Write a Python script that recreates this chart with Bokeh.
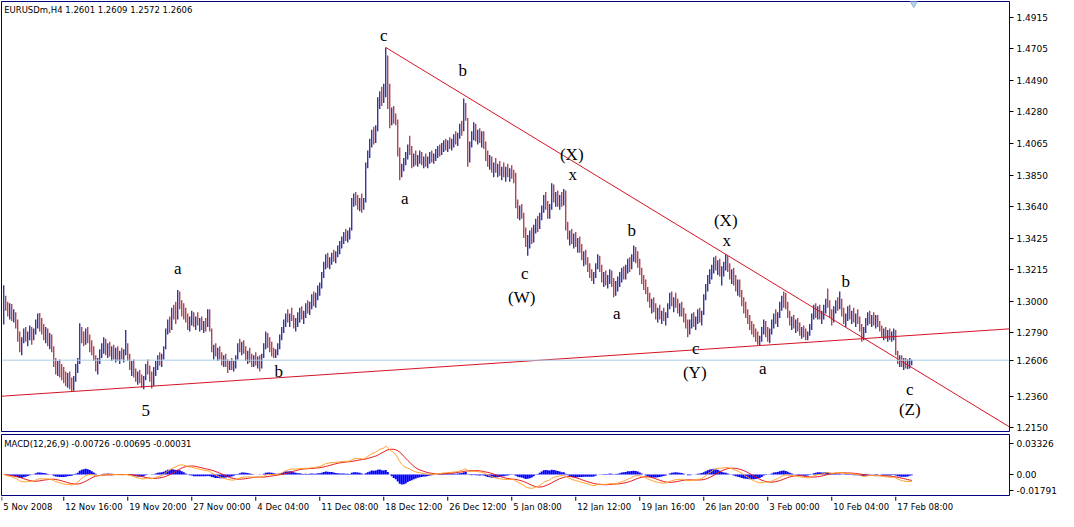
import numpy as np
from bokeh.plotting import figure
from bokeh.layouts import column
from bokeh.models import Range1d, LinearAxis, FixedTicker, Span, Label, PrintfTickFormatter
from bokeh.core.properties import value
from bokeh.embed import file_html
from bokeh.resources import INLINE

# ---------------- data ----------------
chart_title = "EURUSDm,H4  1.2601 1.2609 1.2572 1.2606"
macd_title = "MACD(12,26,9) -0.00726 -0.00695 -0.00031"
first_open = 1.2850

bar_high = [
 1.3111,1.3040,1.3000,1.2990,1.2985,1.2950,1.2930,1.2880,1.2800,1.2760,
 1.2820,1.2830,1.2800,1.2840,1.2830,1.2820,1.2880,1.2920,1.2925,1.2890,
 1.2850,1.2830,1.2820,1.2790,1.2780,1.2700,1.2620,1.2600,1.2610,1.2580,
 1.2560,1.2530,1.2520,1.2530,1.2490,1.2500,1.2580,1.2620,1.2855,1.2830,
 1.2800,1.2820,1.2830,1.2780,1.2740,1.2700,1.2640,1.2620,1.2680,1.2720,
 1.2760,1.2750,1.2720,1.2730,1.2700,1.2710,1.2690,1.2700,1.2670,1.2690,
 1.2680,1.2810,1.2720,1.2650,1.2600,1.2610,1.2550,1.2530,1.2540,1.2510,
 1.2500,1.2580,1.2610,1.2570,1.2530,1.2560,1.2600,1.2640,1.2660,1.2650,
 1.2700,1.2820,1.2880,1.2900,1.2960,1.2980,1.3000,1.3080,1.3070,1.3010,
 1.2990,1.2960,1.2920,1.2900,1.2940,1.2930,1.2900,1.2930,1.2890,1.2900,
 1.2870,1.2890,1.2950,1.2950,1.2820,1.2710,1.2720,1.2690,1.2700,1.2660,
 1.2640,1.2650,1.2610,1.2600,1.2620,1.2600,1.2640,1.2720,1.2750,1.2730,
 1.2740,1.2700,1.2670,1.2690,1.2650,1.2640,1.2660,1.2630,1.2640,1.2650,
 1.2720,1.2800,1.2790,1.2760,1.2730,1.2690,1.2680,1.2720,1.2780,1.2830,
 1.2880,1.2920,1.2950,1.2920,1.2960,1.2910,1.2890,1.2930,1.2960,1.2970,
 1.2940,1.2990,1.3010,1.3000,1.3050,1.3070,1.3060,1.3110,1.3130,1.3200,
 1.3270,1.3320,1.3330,1.3300,1.3330,1.3350,1.3340,1.3380,1.3410,1.3440,
 1.3470,1.3490,1.3480,1.3500,1.3700,1.3730,1.3740,1.3720,1.3700,1.3730,
 1.3700,1.3940,1.4020,1.4100,1.4160,1.4180,1.4190,1.4380,1.4420,1.4450,
 1.4470,1.4715,1.4660,1.4470,1.4310,1.4320,1.4270,1.4230,1.4040,1.3930,
 1.3970,1.4010,1.4060,1.4120,1.4050,1.4000,1.4020,1.3990,1.4020,1.4010,
 1.3980,1.4000,1.3980,1.4010,1.4020,1.4000,1.4030,1.4050,1.4060,1.4070,
 1.4090,1.4100,1.4090,1.4110,1.4100,1.4130,1.4150,1.4140,1.4200,1.4220,
 1.4370,1.4340,1.4240,1.4080,1.4150,1.4210,1.4200,1.4160,1.4170,1.4150,
 1.4150,1.4080,1.4020,1.3990,1.3980,1.3940,1.3970,1.3930,1.3950,1.3910,
 1.3940,1.3910,1.3930,1.3900,1.3920,1.3890,1.3870,1.3690,1.3650,1.3660,
 1.3600,1.3500,1.3450,1.3480,1.3500,1.3520,1.3560,1.3580,1.3600,1.3650,
 1.3720,1.3740,1.3680,1.3660,1.3800,1.3790,1.3740,1.3750,1.3720,1.3740,
 1.3760,1.3750,1.3540,1.3480,1.3490,1.3460,1.3470,1.3430,1.3440,1.3390,
 1.3340,1.3350,1.3300,1.3260,1.3220,1.3200,1.3260,1.3320,1.3310,1.3250,
 1.3200,1.3210,1.3180,1.3220,1.3210,1.3160,1.3140,1.3170,1.3200,1.3230,
 1.3240,1.3250,1.3290,1.3300,1.3320,1.3380,1.3370,1.3340,1.3290,1.3230,
 1.3180,1.3150,1.3100,1.3060,1.3020,1.3030,1.2990,1.2960,1.2980,1.2940,
 1.2960,1.2930,1.2990,1.3060,1.3070,1.3030,1.3060,1.3020,1.2990,1.3000,
 1.2960,1.2920,1.2880,1.2880,1.2920,1.2930,1.2900,1.2950,1.2960,1.2940,
 1.3050,1.3120,1.3180,1.3220,1.3250,1.3300,1.3310,1.3280,1.3290,1.3240,
 1.3270,1.3320,1.3310,1.3260,1.3220,1.3230,1.3180,1.3150,1.3150,1.3080,
 1.3030,1.3000,1.2950,1.2910,1.2870,1.2850,1.2820,1.2800,1.2770,1.2830,
 1.2880,1.2870,1.2830,1.2820,1.2880,1.2920,1.2950,1.2930,1.3000,1.3040,
 1.3070,1.3060,1.3000,1.2940,1.2900,1.2910,1.2880,1.2890,1.2860,1.2830,
 1.2840,1.2820,1.2800,1.2850,1.2920,1.2980,1.2990,1.2970,1.2980,1.2940,
 1.2980,1.3020,1.3090,1.3010,1.2950,1.2970,1.3010,1.3030,1.3070,1.3020,
 1.2960,1.2920,1.2970,1.2980,1.2940,1.2960,1.2920,1.2950,1.2900,1.2850,
 1.2830,1.2890,1.2930,1.2940,1.2910,1.2930,1.2910,1.2910,1.2870,1.2840,
 1.2820,1.2830,1.2810,1.2820,1.2800,1.2820,1.2810,1.2670,1.2640,1.2640,
 1.2620,1.2620,1.2610,1.2620,1.2609]

bar_low = [
 1.2846,1.2940,1.2900,1.2880,1.2870,1.2860,1.2820,1.2730,1.2660,1.2640,
 1.2720,1.2730,1.2700,1.2740,1.2710,1.2740,1.2780,1.2820,1.2800,1.2780,
 1.2740,1.2720,1.2700,1.2680,1.2660,1.2560,1.2510,1.2500,1.2490,1.2470,
 1.2450,1.2430,1.2420,1.2410,1.2395,1.2400,1.2460,1.2520,1.2580,1.2720,
 1.2700,1.2710,1.2720,1.2660,1.2640,1.2600,1.2530,1.2510,1.2580,1.2620,
 1.2650,1.2640,1.2620,1.2630,1.2600,1.2610,1.2590,1.2600,1.2580,1.2610,
 1.2590,1.2640,1.2600,1.2540,1.2500,1.2490,1.2460,1.2440,1.2450,1.2420,
 1.2410,1.2470,1.2510,1.2460,1.2415,1.2430,1.2500,1.2540,1.2570,1.2560,
 1.2610,1.2680,1.2780,1.2790,1.2810,1.2880,1.2850,1.2880,1.2950,1.2900,
 1.2880,1.2860,1.2810,1.2800,1.2840,1.2830,1.2810,1.2840,1.2800,1.2810,
 1.2790,1.2800,1.2830,1.2800,1.2660,1.2610,1.2630,1.2600,1.2610,1.2570,
 1.2560,1.2560,1.2520,1.2540,1.2540,1.2530,1.2550,1.2610,1.2660,1.2640,
 1.2650,1.2600,1.2580,1.2590,1.2560,1.2560,1.2570,1.2550,1.2530,1.2550,
 1.2620,1.2680,1.2690,1.2660,1.2630,1.2620,1.2620,1.2640,1.2680,1.2740,
 1.2790,1.2830,1.2860,1.2830,1.2870,1.2820,1.2800,1.2830,1.2860,1.2880,
 1.2850,1.2890,1.2920,1.2910,1.2950,1.2970,1.2960,1.3010,1.3040,1.3090,
 1.3160,1.3220,1.3230,1.3220,1.3250,1.3270,1.3260,1.3300,1.3320,1.3360,
 1.3390,1.3410,1.3400,1.3420,1.3480,1.3640,1.3650,1.3620,1.3610,1.3600,
 1.3620,1.3670,1.3900,1.3970,1.4040,1.4060,1.4070,1.4150,1.4300,1.4320,
 1.4340,1.4380,1.4300,1.4170,1.4190,1.4200,1.4190,1.3980,1.3820,1.3840,
 1.3880,1.3920,1.3960,1.3990,1.3900,1.3910,1.3920,1.3910,1.3930,1.3920,
 1.3900,1.3910,1.3900,1.3930,1.3940,1.3930,1.3950,1.3970,1.3980,1.3990,
 1.4010,1.4020,1.4010,1.4030,1.4020,1.4040,1.4060,1.4050,1.4100,1.4120,
 1.4150,1.4220,1.3910,1.3940,1.4040,1.4090,1.4080,1.4060,1.4070,1.4040,
 1.4030,1.3950,1.3910,1.3890,1.3870,1.3840,1.3870,1.3840,1.3850,1.3820,
 1.3840,1.3810,1.3840,1.3810,1.3830,1.3800,1.3630,1.3560,1.3550,1.3560,
 1.3430,1.3370,1.3310,1.3360,1.3390,1.3400,1.3460,1.3470,1.3490,1.3550,
 1.3600,1.3620,1.3560,1.3560,1.3620,1.3670,1.3640,1.3640,1.3620,1.3640,
 1.3650,1.3480,1.3420,1.3380,1.3390,1.3360,1.3370,1.3330,1.3330,1.3280,
 1.3240,1.3250,1.3200,1.3160,1.3140,1.3120,1.3160,1.3220,1.3200,1.3130,
 1.3100,1.3110,1.3090,1.3120,1.3100,1.3030,1.3040,1.3070,1.3100,1.3130,
 1.3150,1.3150,1.3190,1.3200,1.3220,1.3270,1.3260,1.3230,1.3180,1.3120,
 1.3080,1.3050,1.3000,1.2960,1.2920,1.2930,1.2880,1.2860,1.2880,1.2850,
 1.2870,1.2840,1.2890,1.2950,1.2970,1.2930,1.2960,1.2920,1.2900,1.2900,
 1.2860,1.2820,1.2760,1.2780,1.2820,1.2830,1.2810,1.2850,1.2860,1.2840,
 1.2910,1.3010,1.3070,1.3120,1.3150,1.3190,1.3210,1.3180,1.3170,1.3110,
 1.3170,1.3210,1.3200,1.3150,1.3120,1.3110,1.3070,1.3040,1.3030,1.2970,
 1.2920,1.2890,1.2850,1.2810,1.2780,1.2760,1.2730,1.2710,1.2705,1.2730,
 1.2780,1.2760,1.2730,1.2720,1.2780,1.2820,1.2850,1.2830,1.2890,1.2940,
 1.2960,1.2950,1.2890,1.2840,1.2810,1.2820,1.2790,1.2800,1.2770,1.2750,
 1.2760,1.2740,1.2740,1.2770,1.2810,1.2880,1.2890,1.2880,1.2880,1.2850,
 1.2880,1.2920,1.2960,1.2890,1.2840,1.2860,1.2920,1.2940,1.2950,1.2900,
 1.2850,1.2830,1.2870,1.2880,1.2850,1.2860,1.2830,1.2850,1.2800,1.2730,
 1.2740,1.2790,1.2840,1.2850,1.2830,1.2840,1.2820,1.2830,1.2800,1.2760,
 1.2740,1.2750,1.2730,1.2740,1.2730,1.2740,1.2640,1.2580,1.2560,1.2560,
 1.2540,1.2550,1.2545,1.2550,1.2572]

bar_close = [
 1.3060,1.2960,1.2930,1.2970,1.2890,1.2900,1.2840,1.2760,1.2700,1.2740,
 1.2790,1.2760,1.2780,1.2800,1.2760,1.2800,1.2860,1.2900,1.2830,1.2800,
 1.2770,1.2790,1.2720,1.2750,1.2680,1.2580,1.2540,1.2570,1.2520,1.2500,
 1.2480,1.2460,1.2500,1.2430,1.2420,1.2480,1.2560,1.2600,1.2780,1.2760,
 1.2730,1.2790,1.2740,1.2690,1.2670,1.2620,1.2560,1.2600,1.2660,1.2700,
 1.2740,1.2670,1.2690,1.2650,1.2680,1.2640,1.2660,1.2630,1.2650,1.2640,
 1.2660,1.2700,1.2620,1.2560,1.2580,1.2510,1.2480,1.2510,1.2470,1.2450,
 1.2490,1.2560,1.2530,1.2490,1.2440,1.2540,1.2580,1.2620,1.2590,1.2630,
 1.2690,1.2800,1.2860,1.2820,1.2940,1.2900,1.2880,1.3050,1.2980,1.2940,
 1.2920,1.2880,1.2840,1.2870,1.2910,1.2860,1.2880,1.2860,1.2870,1.2840,
 1.2860,1.2830,1.2890,1.2810,1.2690,1.2690,1.2650,1.2670,1.2630,1.2600,
 1.2620,1.2580,1.2560,1.2580,1.2560,1.2590,1.2630,1.2700,1.2690,1.2710,
 1.2670,1.2630,1.2650,1.2620,1.2600,1.2620,1.2600,1.2610,1.2560,1.2630,
 1.2700,1.2780,1.2720,1.2690,1.2660,1.2640,1.2660,1.2700,1.2760,1.2810,
 1.2860,1.2900,1.2880,1.2910,1.2890,1.2850,1.2870,1.2910,1.2940,1.2900,
 1.2920,1.2970,1.2950,1.2980,1.3030,1.3000,1.3040,1.3090,1.3110,1.3180,
 1.3250,1.3290,1.3260,1.3280,1.3310,1.3300,1.3330,1.3360,1.3390,1.3420,
 1.3450,1.3440,1.3470,1.3490,1.3690,1.3700,1.3680,1.3660,1.3690,1.3650,
 1.3680,1.3920,1.3990,1.4070,1.4130,1.4090,1.4170,1.4350,1.4390,1.4360,
 1.4440,1.4640,1.4330,1.4200,1.4280,1.4230,1.4210,1.4010,1.3860,1.3910,
 1.3950,1.3990,1.4040,1.4020,1.3930,1.3980,1.3950,1.3970,1.4000,1.3950,
 1.3960,1.3940,1.3970,1.3990,1.3970,1.3990,1.4010,1.4030,1.4020,1.4050,
 1.4070,1.4040,1.4070,1.4050,1.4080,1.4110,1.4080,1.4120,1.4180,1.4160,
 1.4310,1.4250,1.3950,1.4060,1.4120,1.4180,1.4110,1.4140,1.4090,1.4120,
 1.4050,1.3980,1.3940,1.3960,1.3900,1.3920,1.3890,1.3910,1.3870,1.3890,
 1.3860,1.3880,1.3860,1.3880,1.3850,1.3830,1.3660,1.3600,1.3620,1.3580,
 1.3460,1.3400,1.3420,1.3450,1.3420,1.3500,1.3540,1.3500,1.3580,1.3630,
 1.3700,1.3650,1.3600,1.3640,1.3770,1.3700,1.3720,1.3670,1.3700,1.3660,
 1.3740,1.3510,1.3450,1.3460,1.3420,1.3440,1.3400,1.3410,1.3360,1.3300,
 1.3320,1.3280,1.3230,1.3190,1.3170,1.3180,1.3240,1.3300,1.3220,1.3160,
 1.3170,1.3140,1.3160,1.3190,1.3120,1.3060,1.3120,1.3150,1.3170,1.3210,
 1.3180,1.3230,1.3270,1.3230,1.3300,1.3350,1.3290,1.3260,1.3200,1.3150,
 1.3110,1.3070,1.3030,1.2990,1.2990,1.2950,1.2910,1.2940,1.2900,1.2920,
 1.2890,1.2910,1.2970,1.3040,1.3000,1.3010,1.2990,1.2950,1.2970,1.2930,
 1.2880,1.2850,1.2800,1.2860,1.2900,1.2870,1.2880,1.2930,1.2890,1.2920,
 1.3030,1.3100,1.3160,1.3200,1.3220,1.3280,1.3240,1.3260,1.3190,1.3210,
 1.3250,1.3300,1.3230,1.3180,1.3200,1.3140,1.3100,1.3120,1.3060,1.3000,
 1.2960,1.2920,1.2880,1.2840,1.2810,1.2790,1.2760,1.2740,1.2750,1.2810,
 1.2860,1.2790,1.2760,1.2800,1.2860,1.2900,1.2880,1.2910,1.2980,1.3020,
 1.2990,1.2970,1.2910,1.2870,1.2880,1.2850,1.2860,1.2830,1.2800,1.2810,
 1.2790,1.2760,1.2790,1.2830,1.2900,1.2960,1.2920,1.2950,1.2910,1.2920,
 1.2960,1.3000,1.2990,1.2910,1.2870,1.2950,1.2990,1.2960,1.3000,1.2930,
 1.2880,1.2900,1.2940,1.2910,1.2920,1.2890,1.2910,1.2870,1.2830,1.2790,
 1.2810,1.2870,1.2910,1.2880,1.2900,1.2870,1.2890,1.2850,1.2820,1.2790,
 1.2800,1.2780,1.2790,1.2770,1.2790,1.2800,1.2660,1.2610,1.2620,1.2580,
 1.2600,1.2570,1.2590,1.2601,1.2606]

price_ticks = [1.4915, 1.4705, 1.4490, 1.4280, 1.4065, 1.3850, 1.3640,
               1.3425, 1.3215, 1.3000, 1.2790, 1.2575, 1.2360, 1.2150]
current_price = 1.2606

time_tick_bars = [-1, 30, 62, 94, 126, 158, 190, 222, 254, 286, 318, 350, 382, 414, 446]
time_tick_labels = ["5 Nov 2008", "12 Nov 16:00", "19 Nov 20:00", "27 Nov 00:00",
                    "4 Dec 04:00", "11 Dec 08:00", "18 Dec 12:00", "26 Dec 12:00",
                    "5 Jan 08:00", "12 Jan 12:00", "19 Jan 16:00", "26 Jan 20:00",
                    "3 Feb 00:00", "10 Feb 04:00", "17 Feb 08:00"]

support_bars = [-1, 512.5]
support_prices = [1.2363, 1.2826]
resist_bars = [191, 507]
resist_prices = [1.4715, 1.2122]

wave_text = ["c", "b", "a", "(X)", "x", "c", "(W)", "b", "a", "(X)", "x",
             "c", "(Y)", "a", "b", "c", "(Z)", "a", "b", "5"]
wave_bar = [190, 229.5, 200.5, 284, 284.5, 260.5, 259, 314, 306.5, 361, 361.5,
            346, 345.5, 379.5, 421, 453, 453, 87, 137.5, 71]
wave_price = [1.4798, 1.4559, 1.3695, 1.3994, 1.3855, 1.3191, 1.3031, 1.3483,
              1.2919, 1.3549, 1.3410, 1.2686, 1.2520, 1.2547, 1.3138, 1.2407,
              1.2274, 1.3224, 1.2527, 1.2268]

macd_ticks = [0.03326, 0.0, -0.01791]
macd_tick_labels = ["0.03326", "0.00", "-0.01791"]

# ---------------- derived ----------------
closes = np.array(bar_close)
highs = np.array(bar_high)
lows = np.array(bar_low)
opens = np.array([first_open] + bar_close[:-1])
idx = np.arange(len(closes))
UP, DOWN = "#14148c", "#a4263a"
colors = [UP if c >= o else DOWN for c, o in zip(closes, opens)]


def ema(x, n):
    a = 2.0 / (n + 1)
    out = np.empty_like(x)
    out[0] = x[0]
    for k in range(1, len(x)):
        out[k] = a * x[k] + (1 - a) * out[k - 1]
    return out


macd_main = ema(closes, 12) - ema(closes, 26)
macd_signal = np.array([macd_main[max(0, k - 8):k + 1].mean() for k in range(len(macd_main))])
macd_hist = macd_main - macd_signal

# the current price takes the place of the tick label it hides
shown_ticks = [t for t in price_ticks if abs(t - current_price) > 0.005] + [current_price]

FW = 1008
X0 = -1.125
XR = Range1d(X0, X0 + FW / 2.0)   # two pixels per bar
FONT = "DejaVu Sans"
FRAME = "#000080"

# ---------------- price panel ----------------
p1 = figure(frame_width=FW, frame_height=430, x_range=XR,
            y_range=Range1d(1.2125, 1.5025), x_axis_location=None, y_axis_location=None,
            toolbar_location=None, output_backend="svg",
            min_border_left=1, min_border_top=1, min_border_bottom=3, min_border_right=0)
p1.outline_line_color = FRAME
p1.outline_line_width = 1
p1.background_fill_color = "white"
p1.border_fill_color = "white"
p1.xgrid.visible = False
p1.ygrid.visible = False

ax = LinearAxis(ticker=FixedTicker(ticks=shown_ticks), formatter=PrintfTickFormatter(format="%.4f"))
ax.axis_line_color = None
ax.major_tick_line_color = "black"
ax.major_tick_out = 4
ax.major_tick_in = 0
ax.minor_tick_line_color = None
ax.major_label_text_font = FONT
ax.major_label_text_font_size = "9px"
ax.major_label_text_color = "black"
ax.major_label_standoff = 3
p1.add_layout(ax, "right")

p1.add_layout(Span(location=current_price, dimension="width", line_color="#a8cce6", line_width=1))

p1.segment(x0=idx, y0=lows, x1=idx, y1=highs, line_color=colors, line_width=1.2)

p1.line(support_bars, support_prices, line_color="#d41424", line_width=1)
p1.line(resist_bars, resist_prices, line_color="#d41424", line_width=1)

p1.text(x=wave_bar, y=wave_price, text=wave_text, text_font=value("Liberation Serif"),
        text_font_size="17px", text_align="center", text_baseline="middle", text_color="black")

p1.scatter(x=[455], y=[1.5012], marker="inverted_triangle", size=7,
           fill_color="#b8d4ee", line_color="#8fb2d6")

p1.add_layout(Label(x=0.2, y=1.4970, text=chart_title, text_font=FONT, text_font_size="8.5px",
                    text_baseline="middle", text_align="left", text_color="black"))

# ---------------- MACD panel ----------------
p2 = figure(frame_width=FW, frame_height=62, x_range=XR, y_range=Range1d(-0.0240, 0.0433),
            x_axis_location=None, y_axis_location=None, toolbar_location=None, output_backend="svg",
            min_border_left=1, min_border_top=0, min_border_bottom=0, min_border_right=0)
p2.outline_line_color = FRAME
p2.background_fill_color = "white"
p2.border_fill_color = "white"
p2.xgrid.visible = False
p2.ygrid.visible = False

ax2 = LinearAxis(ticker=FixedTicker(ticks=macd_ticks))
ax2.major_label_overrides = {t: s for t, s in zip(macd_ticks, macd_tick_labels)}
ax2.axis_line_color = None
ax2.major_tick_line_color = "black"
ax2.major_tick_out = 4
ax2.major_tick_in = 0
ax2.minor_tick_line_color = None
ax2.major_label_text_font = FONT
ax2.major_label_text_font_size = "9px"
ax2.major_label_text_color = "black"
ax2.major_label_standoff = 3
p2.add_layout(ax2, "right")

p2.vbar(x=idx, top=macd_hist, bottom=0, width=1.0, fill_color="#0000ff", line_color=None)
p2.line(idx, macd_signal, line_color="#e01818", line_width=1)
p2.line(idx, macd_main, line_color="#ffa030", line_width=1)
p2.add_layout(Label(x=0.2, y=0.0329, text=macd_title, text_font=FONT, text_font_size="8.5px",
                    text_baseline="middle", text_align="left", text_color="black"))

# ---------------- time labels ----------------
p3 = figure(frame_width=FW, frame_height=15, x_range=XR, y_range=Range1d(0, 1),
            x_axis_location=None, y_axis_location=None, toolbar_location=None, output_backend="svg",
            min_border_left=1, min_border_top=0, min_border_bottom=0, min_border_right=0)
p3.outline_line_color = None
p3.border_fill_color = "white"
p3.xgrid.visible = False
p3.ygrid.visible = False
p3.segment(x0=time_tick_bars, y0=[1.0] * len(time_tick_bars), x1=time_tick_bars,
           y1=[0.72] * len(time_tick_bars), line_color="black", line_width=1)
p3.text(x=[t + 0.8 for t in time_tick_bars], y=[0.32] * len(time_tick_bars), text=time_tick_labels,
        text_font=value(FONT), text_font_size="8.5px", text_align="left", text_baseline="middle",
        text_color="black")

layout = column(p1, p2, p3, spacing=0)
open("out.html", "w").write(file_html(layout, INLINE))
